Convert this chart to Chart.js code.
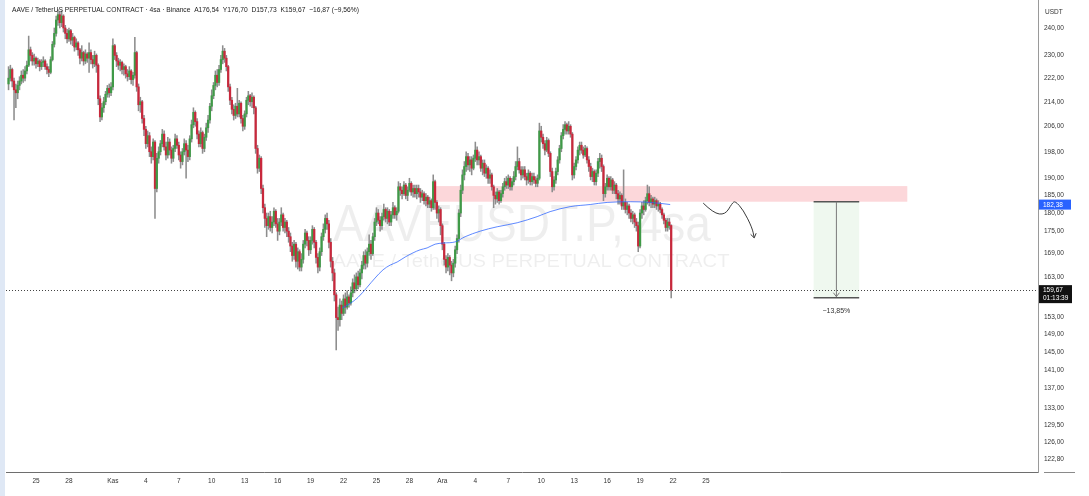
<!DOCTYPE html>
<html>
<head>
<meta charset="utf-8">
<script src="https://cdn.jsdelivr.net/npm/chart.js@4.4.1/dist/chart.umd.min.js"></script>
<style>
  html, body { margin: 0; padding: 0; background: #fff; }
  #wrap { position: relative; width: 1089px; height: 496px; overflow: hidden; }
  #edge { position: absolute; left: 0; top: 0; width: 5px; height: 496px; background: #dfe8f5; }
</style>
</head>
<body>
<div id="wrap"><canvas id="chart" width="1089" height="496"></canvas><div id="edge"></div></div>
<script>
// days are counted from Oct 1 (Nov 1 = 32, Dec 1 = 62), 4h candles
const startDay = 22.5;          // Oct 22 12:00
const candleStep = 4 / 24;
const firstOpen = 220;

const closes = [
  222, 225, 221, 218, 217, 219.5, 221, 223, 222, 224.5, 226.5,
  232, 230, 228, 229, 227, 228, 226, 227.5, 228, 226, 225, 224,
  228.5, 234, 238, 243, 245, 242, 244.5, 240,
  238, 236, 239, 235.5, 236.5, 233, 234.5, 232, 229, 231, 228, 230.5, 229,
  231, 228.5, 227, 230, 226.5, 215, 209, 212, 214, 216.5, 218.5, 217, 219, 233.5,
  230, 228, 226.5, 227.5, 225, 226, 223.5, 222.5, 224.5, 221.5, 223, 231, 219,
  213, 214, 208.5, 205, 200.5, 203, 198, 196.5, 201, 187, 196,
  198, 200.5, 203.5, 199.5, 197, 201, 198.5, 196, 199, 202, 200, 197, 195, 198, 200.5, 198.5, 196.5,
  202, 206.5, 210.5, 207.5, 203.5, 200.5, 204, 199, 202.5, 205.5,
  208, 212.5, 216, 219.5, 223, 220.5, 225, 228.5, 231.5, 229, 226,
  219, 214.5, 211.5, 209.5, 212.5, 210, 213.5, 208.5, 206, 210, 214.5,
  216, 214, 215.5, 212, 199, 193, 196, 187, 181.5,
  178.5, 176.5, 179, 176, 177.5, 180.5, 177, 175, 177.5, 179.5, 176, 177.5, 175,
  173.5, 171, 168.5, 171.5, 167, 169.5, 165.5, 167.5, 171.5, 174.5, 172.5,
  170, 172.5, 175.5, 172, 168, 165.5, 169.5, 173.5, 175.5, 178.5, 177,
  172, 167, 164, 158.5, 153, 152.5, 156, 154, 157.5, 155.5, 158, 156.5, 159,
  161.5, 160, 163, 161, 164, 166, 168.5, 166.5, 169.5, 171.5, 169, 173.5,
  177.5, 180, 178, 176.5, 179, 181, 178.5, 180.5, 177.5, 179.5, 181.5, 179.5, 180.5,
  187.5, 186.5, 185.5, 188, 185, 186.5, 188.5, 186, 187,
  185.5, 187, 186, 184.5, 185.5, 183.5, 184.5, 182.5, 183.5, 181.5, 189,
  183, 180, 181, 176.5, 171.5, 167.5, 165.5, 168, 166, 164, 166.5,
  170, 173, 180, 186.5, 191, 193.5, 196.5, 194, 195.5, 193, 196, 198.5,
  195.5, 196.5, 193, 194.5, 191.5, 193, 190, 191, 187.5,
  185, 184, 186, 183.5, 185.5, 187.5, 189, 188, 190, 187.5, 189, 190.5,
  193.5, 195, 192.5, 191, 192.5, 190.5, 189.5, 191.5, 189, 190.5, 189.5, 188.5, 190,
  204.5, 202.5, 200.5, 198.5, 201.5, 197.5, 192, 187.5,
  189.5, 192, 195.5, 199, 203, 205, 206.5, 204.5, 206, 203.5, 191, 193.5, 195.5,
  198.5, 200, 198.5, 197, 199, 195.5, 193.5, 190.5, 192, 189,
  191.5, 195, 196, 193.5, 185.5, 187.5, 190, 187.5, 189.5, 186.5, 188,
  185.5, 184, 185, 182, 183, 181, 182, 180, 178.5, 179.5, 177.5, 176.5,
  171, 180, 182, 181, 183.5, 185.5, 183, 184,
  182.5, 183.5, 182, 182.5, 181, 179.5, 178, 176, 177.5, 176.54, 159.67
];

const highs = [
  226, 226.5, 225.5, 222, 220, 221, 222.5, 224.5, 225, 226, 228,
  237, 233, 231, 230.5, 229.5, 229, 228.5, 228.5, 229.5, 228.5, 227, 226,
  229.5, 235, 240, 244.5, 247, 246, 246.5, 245,
  241, 239.5, 240, 239.5, 238, 237, 236, 235, 232.5, 233.5, 231.5, 232, 231,
  234.5, 232, 230, 231.5, 230.5, 227, 216, 213.5, 215.5, 217.5, 219.5, 220, 220.5, 236,
  234, 231, 229, 228.5, 228, 227, 226.5, 225, 226, 225, 224, 236.5, 231.5,
  220, 215.5, 214.5, 209.5, 206, 204.5, 204, 199.5, 202, 201.5, 197.5,
  199.5, 201.5, 205, 204.5, 201, 202.5, 202, 199.5, 200, 203.5, 203, 201, 198, 199, 202, 201.5, 200,
  203, 208, 212, 211, 208.5, 204.5, 205.5, 204.5, 203.5, 207,
  209.5, 213.5, 218, 220.5, 224.5, 225, 226.5, 230, 233.5, 232.5, 230,
  226.5, 220, 215.5, 213, 213.5, 218.5, 214.5, 214, 209.5, 211, 215.5,
  217.5, 216.5, 217, 216, 212.5, 200, 197, 196.5, 188,
  182.5, 180, 180, 180.5, 179, 181.5, 181, 178.5, 178.5, 181.5, 180, 178.5, 178,
  176, 174.5, 172, 172.5, 172, 170.5, 170, 169, 172.5, 175.5, 175,
  173.5, 173.5, 176.5, 176, 172.5, 169, 170.5, 174.5, 177, 179.5, 180,
  178, 173, 168, 165, 159, 155.5, 157.5, 157, 158.5, 159, 159.5, 158.5, 160.5,
  162.5, 163.5, 164, 164.5, 165, 167, 169.5, 170, 170.5, 174, 172.5, 174.5,
  178.5, 181.5, 181, 179, 180, 182.5, 181.5, 181.5, 181, 180.5, 183, 182, 181.5,
  189, 188.5, 187.5, 189, 188.5, 187.5, 190, 189, 188,
  188, 188, 188, 187, 186.5, 186, 185.5, 185, 184.5, 184, 191,
  189.5, 183.5, 182, 181.5, 177, 172, 168.5, 169, 168.5, 167, 167.5,
  171, 174, 181, 188, 192.5, 195, 198, 197.5, 196.5, 196.5, 197, 201,
  199.5, 198, 197, 195.5, 195.5, 194, 193.5, 192.5, 191.5,
  188, 186, 187, 186.5, 186.5, 188.5, 190, 190.5, 191, 190.5, 190, 192,
  195, 199.5, 196, 193.5, 193.5, 193.5, 191.5, 192.5, 192, 191.5, 191.5, 190.5, 191,
  207, 206, 203.5, 201.5, 202.5, 202, 198, 193,
  190.5, 193, 196.5, 200, 204, 206.5, 207.5, 207, 207.5, 206.5, 204, 194.5, 196.5,
  199.5, 201, 201, 199.5, 200, 199.5, 196.5, 194.5, 193, 192.5,
  192.5, 196, 197.5, 197, 194, 188.5, 191, 190.5, 190.5, 190, 189,
  188.5, 186.5, 186, 185.5, 192.5, 184, 183, 182.5, 181, 180.5, 180, 178.5,
  177.5, 181, 183, 183.5, 184.5, 188, 187.5, 185,
  184.5, 184.5, 184, 183.5, 183, 181.5, 180, 178.5, 178.5, 178.5, 176.70
];

const lows = [
  218, 221, 219, 208, 212, 215, 218, 220, 220.5, 221, 223.5,
  226, 228, 226.5, 226.5, 225.5, 226, 224.5, 225, 226, 225, 223.5, 222.5,
  223.5, 228, 233, 237, 241, 240, 240.5, 238.5,
  236, 234.5, 235, 234, 233.5, 231.5, 232, 230, 227, 228, 226.5, 227, 227.5,
  224, 227, 225.5, 226, 224, 213, 207.5, 208, 210.5, 213, 215.5, 215.5, 216, 218,
  228.5, 226, 225, 224.5, 223.5, 223, 222, 221, 221.5, 220, 219.5, 222, 217.5,
  211, 210.5, 207, 203, 199, 199.5, 196.5, 194.5, 195.5, 178.5, 186,
  194.5, 197, 199.5, 198.5, 195.5, 196, 197, 194.5, 195, 198, 199, 195.5, 193, 194, 197, 190, 195,
  195.5, 201, 205.5, 206, 202, 199.5, 199.5, 197.5, 198, 201.5,
  204, 207, 211, 215, 218, 219, 219.5, 224, 227, 227.5, 224.5,
  217.5, 213, 210, 208, 208.5, 209, 209, 207, 204.5, 205, 209,
  213, 212.5, 212, 210, 197.5, 191.5, 192, 185.5, 180,
  176, 173.5, 175.5, 175, 174.5, 176.5, 176, 172.5, 174, 176.5, 175, 174.5, 173.5,
  172, 169.5, 167, 167.5, 165.5, 165, 164.5, 164.5, 166.5, 170.5, 171,
  168.5, 169, 171.5, 170.5, 166.5, 164, 164.5, 168.5, 172.5, 174.5, 175.5,
  170.5, 165.5, 162, 157, 145.5, 150, 151, 152.5, 153.5, 154, 155, 155.5, 156,
  158, 159, 159.5, 160, 160.5, 162.5, 165, 165, 165.5, 168.5, 167.5, 168.5,
  172.5, 176.5, 177, 175, 175.5, 178, 177.5, 177, 176.5, 176.5, 178.5, 178.5, 178,
  180, 185, 184, 185, 184, 183.5, 186, 185, 184.5,
  184.5, 184, 184.5, 183, 183.5, 182.5, 182, 181.5, 181.5, 180.5, 181,
  181, 178.5, 177.5, 174, 170, 166, 164, 164.5, 163.5, 162, 163,
  165.5, 169, 172, 179, 185.5, 189.5, 192, 192.5, 192, 191, 192.5, 195,
  194, 194, 192, 191, 190.5, 190, 188.5, 188.5, 186.5,
  181.5, 182.5, 183, 182.5, 183, 184.5, 186.5, 187, 187, 186.5, 186.5, 188,
  189.5, 192.5, 191.5, 189.5, 190, 189.5, 188, 188.5, 188, 188, 188.5, 187.5, 187.5,
  189.5, 201, 199, 197, 198, 196.5, 190.5, 186,
  186.5, 188.5, 191, 194.5, 198, 202, 203.5, 203.5, 203.5, 202.5, 189.5, 190, 192.5,
  194.5, 197, 197.5, 196, 196.5, 194.5, 192, 189.5, 189, 188,
  188, 190.5, 193, 192, 183.5, 184.5, 186.5, 186.5, 186.5, 185.5, 185.5,
  184, 182.5, 182.5, 181, 181, 180, 179.5, 178.5, 177.5, 177, 176, 175,
  169.5, 170.5, 178.5, 179.5, 180.5, 182.5, 182, 181.5,
  181.5, 181.5, 181, 180.5, 180, 178.5, 177, 175, 175, 175.5, 157.73
];

// moving average (blue line), read at a few points
const maDays = [52.87, 53.6, 54.33, 55.15, 55.87, 56.6, 57.24, 57.88, 58.61, 59.33, 59.97, 60.61,
  61.34, 62.07, 63.16, 64.07, 65.44, 66.99, 68.81, 70.63, 71.81, 73.63, 75.46, 77.0, 79.1, 80.92, 82.74];
const maValues = [155.3, 156.4, 157.9, 160.4, 162.7, 164.8, 166.0, 166.8, 168.1, 169.2, 170.0, 170.5,
  171.5, 171.8, 172.1, 173.5, 175.0, 176.2, 177.3, 179.0, 180.4, 181.8, 182.4, 183.0, 183.2, 183.0, 182.4];
const maLast = 182.38;

const tickDays = [25, 28, 32, 35, 38, 41, 44, 47, 50, 53, 56, 59, 62, 65, 68, 71, 74, 77, 80, 83, 86];
const tickLabels = ['25', '28', 'Kas', '4', '7', '10', '13', '16', '19', '22', '25', '28', 'Ara', '4', '7', '10', '13', '16', '19', '22', '25'];
const priceTicks = [240, 230, 222, 214, 206, 198, 190, 185, 180, 175, 169, 163, 153, 149, 145, 141, 137, 133, 129.5, 126, 122.8];

// drawings
const zoneDays = [61.34, 104.33];
const zonePrices = [183.2, 187.7];
const measureDays = [95.8, 99.95];
const measurePrices = [183.2, 157.8];
const measureLabel = '−13,85%';
const curveDays = [85.75, 86.66, 87.75, 88.39, 88.66, 89.39, 90.21, 90.39];
const curvePrices = [182.8, 180.0, 179.5, 182.8, 183.4, 180.9, 175.9, 173.2];

const title = 'AAVE / TetherUS PERPETUAL CONTRACT · 4sa · Binance  A176,54  Y176,70  D157,73  K159,67  −16,87 (−9,56%)';
const watermark = ['AAVEUSDT.P, 4sa', 'AAVE / TetherUS PERPETUAL CONTRACT'];
const countdown = '01:13:39';

const UP = '#3f9a47';
const DOWN = '#c8283c';
const WICK = '#8d8d8d';
const FONT = '"Liberation Sans", Arial, sans-serif';

// candles are continuous: each opens at the previous close
const opens = closes.map((c, i) => i === 0 ? firstOpen : closes[i - 1]);
const times = closes.map((c, i) => startDay + i * candleStep);
const fmt = v => v.toFixed(2).replace('.', ',');

// draw text squeezed/stretched to a given width, starting at x (align left) or centered on x
function textFit(ctx, text, x, y, width, centered) {
  const w = ctx.measureText(text).width;
  ctx.save();
  ctx.translate(x, y);
  ctx.scale(width / w, 1);
  ctx.textAlign = centered ? 'center' : 'left';
  ctx.fillText(text, 0, 0);
  ctx.restore();
}

const overlay = {
  id: 'overlay',
  beforeDatasetsDraw(chart) {
    const { ctx, chartArea: a, scales: { x, y } } = chart;
    ctx.save();
    // watermark
    ctx.fillStyle = 'rgba(0,0,0,0.065)';
    ctx.textBaseline = 'alphabetic';
    const cx = (a.left + a.right) / 2;
    ctx.font = '52px ' + FONT;
    textFit(ctx, watermark[0], cx, 241, 378, true);
    ctx.font = '19px ' + FONT;
    textFit(ctx, watermark[1], cx + 9, 267, 397, true);

    // supply zone
    const zx0 = x.getPixelForValue(zoneDays[0]), zx1 = x.getPixelForValue(zoneDays[1]);
    const zy0 = y.getPixelForValue(zonePrices[1]), zy1 = y.getPixelForValue(zonePrices[0]);
    ctx.fillStyle = 'rgba(242,54,69,0.2)';
    ctx.fillRect(zx0, zy0, zx1 - zx0, zy1 - zy0);

    // measure box
    const mx0 = x.getPixelForValue(measureDays[0]), mx1 = x.getPixelForValue(measureDays[1]);
    const my0 = y.getPixelForValue(measurePrices[0]), my1 = y.getPixelForValue(measurePrices[1]);
    ctx.fillStyle = 'rgba(76,175,80,0.09)';
    ctx.fillRect(mx0, my0, mx1 - mx0, my1 - my0);
    ctx.restore();
  },
  afterDatasetsDraw(chart) {
    const { ctx, chartArea: a, scales: { x, y } } = chart;
    ctx.save();
    // last price dotted line
    const py = Math.round(y.getPixelForValue(closes[closes.length - 1])) + 0.5;
    ctx.strokeStyle = '#444';
    ctx.lineWidth = 1;
    ctx.setLineDash([1, 2]);
    ctx.beginPath();
    ctx.moveTo(a.left, py);
    ctx.lineTo(a.right, py);
    ctx.stroke();
    ctx.setLineDash([]);

    // measure lines + arrow
    const mx0 = x.getPixelForValue(measureDays[0]), mx1 = x.getPixelForValue(measureDays[1]);
    const my0 = y.getPixelForValue(measurePrices[0]), my1 = y.getPixelForValue(measurePrices[1]);
    const mid = (mx0 + mx1) / 2;
    ctx.strokeStyle = '#555';
    ctx.lineWidth = 1.5;
    ctx.beginPath();
    ctx.moveTo(mx0, my0); ctx.lineTo(mx1, my0);
    ctx.moveTo(mx0, my1); ctx.lineTo(mx1, my1);
    ctx.stroke();
    ctx.strokeStyle = '#7a7a7a';
    ctx.lineWidth = 1;
    ctx.beginPath();
    ctx.moveTo(mid, my0); ctx.lineTo(mid, my1 - 1);
    ctx.moveTo(mid - 3, my1 - 5); ctx.lineTo(mid, my1 - 1); ctx.lineTo(mid + 3, my1 - 5);
    ctx.stroke();
    ctx.fillStyle = '#333';
    ctx.font = '7px ' + FONT;
    ctx.textAlign = 'center';
    ctx.textBaseline = 'middle';
    ctx.fillText(measureLabel, mid, my1 + 13);

    // hand drawn arrow
    const pts = curveDays.map((d, i) => [x.getPixelForValue(d), y.getPixelForValue(curvePrices[i])]);
    ctx.strokeStyle = '#3a3a3a';
    ctx.lineWidth = 1;
    ctx.beginPath();
    ctx.moveTo(pts[0][0], pts[0][1]);
    for (let i = 1; i < pts.length - 1; i++) {
      const mxp = (pts[i][0] + pts[i + 1][0]) / 2, myp = (pts[i][1] + pts[i + 1][1]) / 2;
      ctx.quadraticCurveTo(pts[i][0], pts[i][1], mxp, myp);
    }
    const end = pts[pts.length - 1];
    ctx.lineTo(end[0], end[1]);
    ctx.stroke();
    const prev = pts[pts.length - 2];
    const ang = Math.atan2(end[1] - prev[1], end[0] - prev[0]);
    ctx.beginPath();
    ctx.moveTo(end[0] - 5 * Math.cos(ang - 0.6), end[1] - 5 * Math.sin(ang - 0.6));
    ctx.lineTo(end[0], end[1]);
    ctx.lineTo(end[0] - 5 * Math.cos(ang + 0.6), end[1] - 5 * Math.sin(ang + 0.6));
    ctx.stroke();
    ctx.restore();
  },
  afterDraw(chart) {
    const { ctx, chartArea: a, scales: { y } } = chart;
    ctx.save();
    ctx.font = '7.5px ' + FONT;
    ctx.fillStyle = '#222';
    ctx.textBaseline = 'middle';
    textFit(ctx, title, 12, 10, 347, false);

    ctx.textAlign = 'left';
    ctx.font = '6.5px ' + FONT;
    ctx.fillStyle = '#333';
    ctx.fillText('USDT', a.right + 7, 12);

    // MA value label
    const by = y.getPixelForValue(maLast);
    ctx.fillStyle = '#2962ff';
    ctx.fillRect(a.right + 1, by - 5, 32, 10);
    ctx.fillStyle = '#fff';
    ctx.fillText(fmt(maLast), a.right + 5, by + 0.5);

    // last price label
    const py = y.getPixelForValue(closes[closes.length - 1]);
    ctx.fillStyle = '#111';
    ctx.fillRect(a.right + 1, py - 5, 33, 18);
    ctx.fillStyle = '#fff';
    ctx.fillText(fmt(closes[closes.length - 1]), a.right + 5, py);
    ctx.fillText(countdown, a.right + 5, py + 8);

    // corner line under the price scale
    ctx.strokeStyle = '#8a8a8a';
    ctx.lineWidth = 1;
    ctx.beginPath();
    ctx.moveTo(a.right + 6, a.bottom + 0.5);
    ctx.lineTo(a.right + 37, a.bottom + 0.5);
    ctx.stroke();
    ctx.restore();
  }
};

new Chart(document.getElementById('chart'), {
  type: 'bar',
  data: {
    datasets: [
      {
        type: 'line',
        data: maDays.map((d, i) => ({ x: d, y: maValues[i] })),
        borderColor: 'rgba(41,98,255,0.75)',
        borderWidth: 1,
        pointRadius: 0,
        tension: 0.35,
        order: 0
      },
      {
        data: times.map((t, i) => ({ x: t, y: [opens[i], closes[i]] })),
        backgroundColor: closes.map((c, i) => c >= opens[i] ? UP : DOWN),
        barThickness: 1.6,
        minBarLength: 1,
        grouped: false,
        order: 1
      },
      {
        data: times.map((t, i) => ({ x: t, y: [lows[i], highs[i]] })),
        backgroundColor: WICK,
        barThickness: 0.9,
        grouped: false,
        order: 2
      }
    ]
  },
  options: {
    responsive: false,
    devicePixelRatio: 1,
    animation: false,
    events: [],
    layout: { padding: { left: 6, top: 0, right: 0, bottom: 0 } },
    plugins: { legend: { display: false }, tooltip: { enabled: false } },
    scales: {
      x: {
        type: 'linear',
        min: 22.2685,
        max: 116.23,
        offset: false,
        grid: { display: false, drawTicks: false },
        border: { display: true, color: '#6e6e6e', width: 1 },
        afterFit: s => { s.height = 24; s.paddingLeft = 0; s.paddingRight = 0; },
        afterBuildTicks: s => { s.ticks = tickDays.map(v => ({ value: v })); },
        ticks: {
          autoSkip: false,
          maxRotation: 0,
          padding: 5,
          color: '#333',
          font: { family: FONT, size: 6.5 },
          callback: v => tickLabels[tickDays.indexOf(v)]
        }
      },
      y: {
        type: 'logarithmic',
        position: 'right',
        min: 120.35,
        max: 250.67,
        grid: { display: false, drawTicks: false },
        border: { display: true, color: '#9a9a9a', width: 1 },
        afterFit: s => { s.width = 51; s.paddingTop = 0; s.paddingBottom = 0; },
        afterBuildTicks: s => { s.ticks = priceTicks.map(v => ({ value: v })); },
        ticks: {
          autoSkip: false,
          padding: 6,
          color: '#333',
          font: { family: FONT, size: 6.5 },
          callback: v => fmt(v)
        }
      }
    }
  },
  plugins: [overlay]
});
</script>
</body>
</html>
